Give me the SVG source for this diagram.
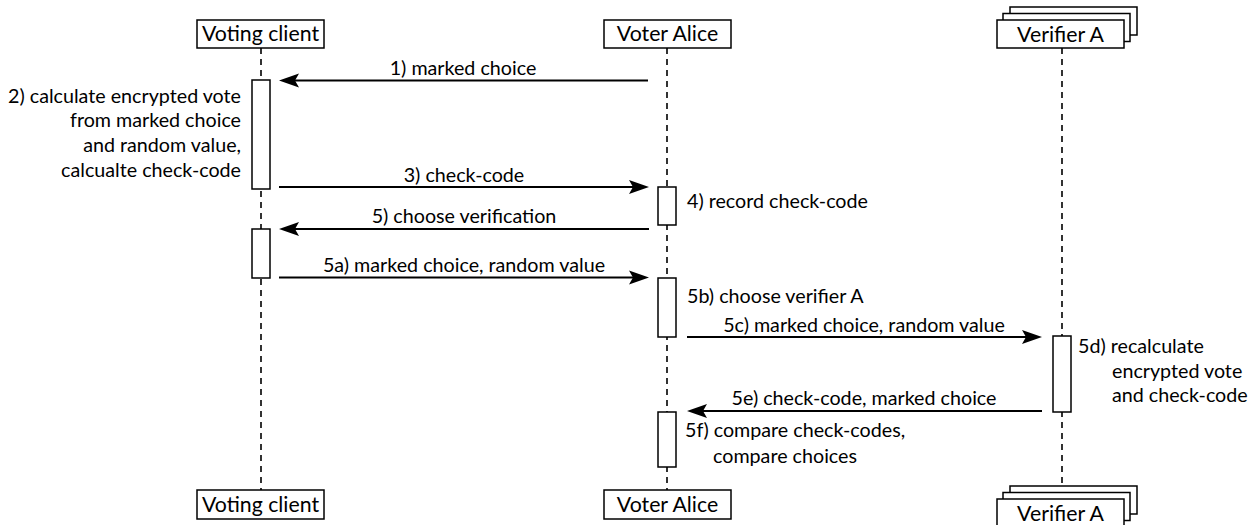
<svg xmlns="http://www.w3.org/2000/svg" width="1255" height="525" viewBox="0 0 1255 525">
  <style>
    text { font-family: Lato, "Open Sans", "Liberation Sans", sans-serif; fill: #000; }
    .lbl { font-size: 19.7px; }
    .head { font-size: 21.3px; text-anchor: middle; }
    .mid { text-anchor: middle; }
    .end { text-anchor: end; }
    .box { fill: #fff; stroke: #000; stroke-width: 1.5; }
    .act { fill: #fff; stroke: #000; stroke-width: 1.5; }
    .life { stroke: #000; stroke-width: 1.6; stroke-dasharray: 6 5; fill: none; }
    .msg { stroke: #000; stroke-width: 2; fill: none; marker-end: url(#arrow); }
  </style>
  <defs>
    <marker id="arrow" markerUnits="userSpaceOnUse" markerWidth="22" markerHeight="16" refX="14" refY="7" orient="auto" overflow="visible">
      <path d="M0,0 L20,7 L0,14 L4,7 Z" fill="#000"/>
    </marker>
  </defs>

  <rect width="1255" height="525" fill="#fff"/>

  <!-- lifelines -->
  <g id="lifelines">
    <line class="life" x1="261" y1="48" x2="261" y2="490"/>
    <line class="life" x1="667" y1="48" x2="667" y2="490"/>
    <line class="life" x1="1062" y1="48" x2="1062" y2="486"/>
  </g>

  <!-- participant: voting client -->
  <g id="voting-client">
    <rect class="box" x="197" y="20" width="127" height="28"/>
    <text class="head" x="260.5" y="41">Voting client</text>
    <rect class="act" x="252" y="80" width="18" height="109"/>
    <rect class="act" x="252" y="229" width="18" height="49"/>
    <text class="lbl end" x="241" y="103">2) calculate encrypted vote</text>
    <text class="lbl end" x="241" y="127">from marked choice</text>
    <text class="lbl end" x="241" y="152">and random value,</text>
    <text class="lbl end" x="241" y="177">calcualte check-code</text>
    <rect class="box" x="197" y="490" width="127" height="29"/>
    <text class="head" x="260.5" y="512">Voting client</text>
  </g>

  <!-- participant: voter alice -->
  <g id="voter-alice">
    <rect class="box" x="604" y="20" width="127" height="28"/>
    <text class="head" x="667.5" y="41">Voter Alice</text>
    <rect class="act" x="658" y="187" width="18" height="38"/>
    <rect class="act" x="658" y="278" width="18" height="59"/>
    <rect class="act" x="658" y="412" width="18" height="55"/>
    <text class="lbl" x="687" y="208">4) record check-code</text>
    <text class="lbl" x="687" y="303">5b) choose verifier A</text>
    <text class="lbl" x="685" y="437">5f) compare check-codes,</text>
    <text class="lbl" x="713" y="463">compare choices</text>
    <rect class="box" x="604" y="490" width="127" height="29"/>
    <text class="head" x="667.5" y="512">Voter Alice</text>
  </g>

  <!-- participant: verifier A (multiple instances) -->
  <g id="verifier-a">
    <rect class="box" x="1010" y="7" width="127" height="28"/>
    <rect class="box" x="1003" y="13.5" width="127" height="28"/>
    <rect class="box" x="997" y="20" width="127" height="28"/>
    <text class="head" x="1060.5" y="41.5">Verifier A</text>
    <rect class="act" x="1053" y="336" width="18" height="76"/>
    <text class="lbl" x="1078" y="353">5d) recalculate</text>
    <text class="lbl" x="1112" y="378">encrypted vote</text>
    <text class="lbl" x="1112" y="402">and check-code</text>
    <rect class="box" x="1010" y="486" width="127" height="28"/>
    <rect class="box" x="1003" y="492.5" width="127" height="28"/>
    <rect class="box" x="997" y="499" width="127" height="28"/>
    <text class="head" x="1060.5" y="520.5">Verifier A</text>
  </g>

  <!-- messages -->
  <g id="connectors">
    <line class="msg" x1="648" y1="80.5" x2="285" y2="80.5"/>
    <text class="lbl mid" x="463" y="75">1) marked choice</text>
    <line class="msg" x1="279" y1="187" x2="643" y2="187"/>
    <text class="lbl mid" x="464" y="182">3) check-code</text>
    <line class="msg" x1="649" y1="229" x2="285" y2="229"/>
    <text class="lbl mid" x="464" y="223">5) choose verification</text>
    <line class="msg" x1="279" y1="277.5" x2="643" y2="277.5"/>
    <text class="lbl mid" x="464" y="272">5a) marked choice, random value</text>
    <line class="msg" x1="687" y1="337" x2="1036" y2="337"/>
    <text class="lbl mid" x="864" y="332">5c) marked choice, random value</text>
    <line class="msg" x1="1042" y1="411" x2="693" y2="411"/>
    <text class="lbl mid" x="864" y="405">5e) check-code, marked choice</text>
  </g>
</svg>
